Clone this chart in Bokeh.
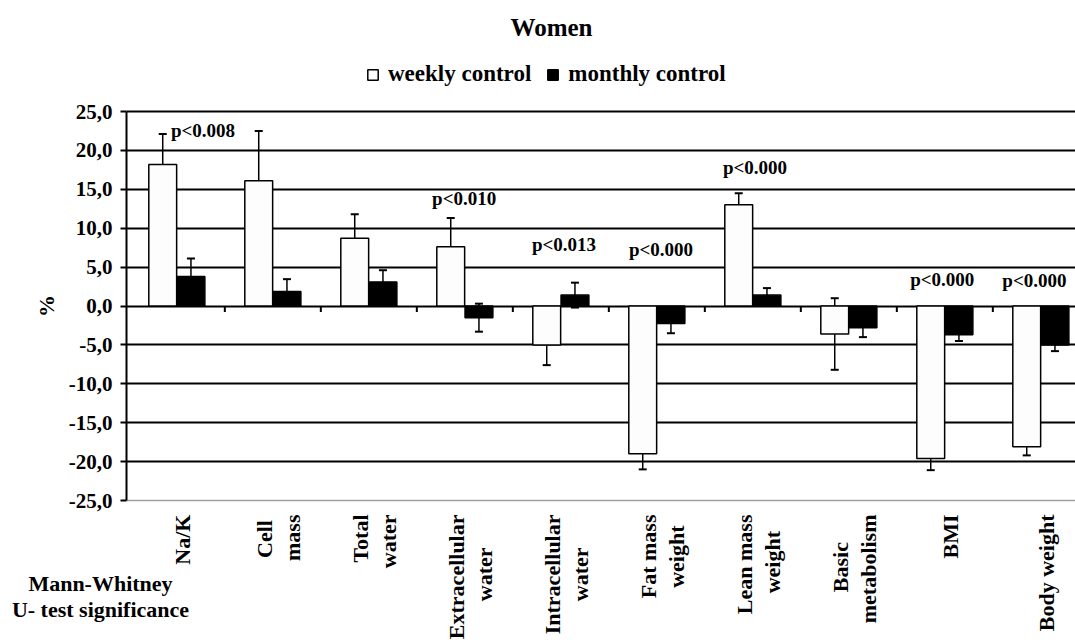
import math
from bokeh.plotting import figure
from bokeh.models import (ColumnDataSource, Range1d, FixedTicker, Whisker, TeeHead,
                          Legend, LegendItem, Label, LinearAxis, Grid)
from bokeh.core.properties import value
from bokeh.embed import file_html
from bokeh.resources import INLINE

# ---------------- data ----------------
categories = ["Na/K", "Cell\nmass", "Total\nwater", "Extracellular\nwater",
              "Intracellular\nwater", "Fat mass\nweight", "Lean mass\nweight",
              "Basic\nmetabolism", "BMI", "Body weight"]
weekly = [18.2, 16.1, 8.7, 7.6, -5.0, -19.0, 13.0, -3.6, -19.6, -18.1]
weekly_err = [3.9, 6.4, 3.1, 3.7, 2.6, 2.0, 1.5, 4.6, 1.5, 1.1]
monthly = [3.8, 1.85, 3.1, -1.5, 1.4, -2.25, 1.4, -2.8, -3.7, -5.0]
monthly_err = [2.3, 1.6, 1.5, 1.8, 1.6, 1.25, 0.9, 1.2, 0.8, 0.8]
p_labels = ["p<0.008", "", "", "p<0.010", "p<0.013", "p<0.000", "p<0.000", "",
            "p<0.000", "p<0.000"]
y_ticks = [-25, -20, -15, -10, -5, 0, 5, 10, 15, 20, 25]
y_min, y_max = -25, 25

# annotation placement (layout, not data)
p_label_y = [22.5, 0, 0, 13.8, 7.9, 7.3, 17.8, 0, 3.4, 3.3]
p_label_dx = [-0.12, 0, 0, -0.40, -0.36, -0.35, -0.37, 0, -0.42, -0.46]

FONT = "Liberation Serif"

# approximate Times-Bold advance widths (1/1000 em) used to centre the two
# lines of a rotated category label (Bokeh aligns lines to the label's end)
_W = dict(zip("abcdefghiklmnorstuwyBCEFIKLMNTW/ ",
              [500, 556, 444, 556, 444, 333, 500, 556, 278, 556, 278, 833, 556,
               500, 444, 389, 333, 556, 722, 500, 667, 722, 667, 611, 389, 778,
               667, 944, 722, 667, 1000, 278, 250]))


def centre_lines(label):
    lines = label.split("\n")
    widths = [sum(_W.get(ch, 500) for ch in ln) for ln in lines]
    mx = max(widths)
    return "\n".join(ln + "\u00a0" * int(round((mx - w) / 2 / 250))
                     for ln, w in zip(lines, widths))


# ---------------- layout (pixels) ----------------
W, H = 1075, 644
AX_X = 126            # pixel column of the value axis
TOP_PX, BOT_PX = 111, 500   # pixel rows of y_max / y_min
PITCH = 96.0          # pixels per category
LABEL_PX0 = 182       # pixel column of first category label

x_lo = (0 - LABEL_PX0) / PITCH
x_hi = (W - LABEL_PX0) / PITCH
x_axis = (AX_X - LABEL_PX0) / PITCH
ppu = (BOT_PX - TOP_PX) / (y_max - y_min)
y_lo = y_min - (H - BOT_PX) / ppu
y_hi = y_max + TOP_PX / ppu

n = len(categories)
idx = list(range(n))
w_off, b_off, bw = -0.206, 0.088, 0.29

src_w = ColumnDataSource(dict(
    x=[i + w_off for i in idx], top=weekly,
    upper=[v + e for v, e in zip(weekly, weekly_err)],
    lower=[v - e for v, e in zip(weekly, weekly_err)]))
src_b = ColumnDataSource(dict(
    x=[i + b_off for i in idx], top=monthly,
    upper=[v + e for v, e in zip(monthly, monthly_err)],
    lower=[v - e for v, e in zip(monthly, monthly_err)]))

p = figure(width=W, height=H, output_backend="svg", toolbar_location=None,
           x_range=Range1d(x_lo, x_hi), y_range=Range1d(y_lo, y_hi),
           x_axis_location=None, y_axis_location=None,
           min_border_left=0, min_border_right=0, min_border_top=0,
           min_border_bottom=0)
p.outline_line_color = None
p.background_fill_color = "white"
p.border_fill_color = "white"
p.xgrid.visible = False
p.ygrid.visible = False

# horizontal grid lines (black), spanning the plot area only
grid_ticks = [t for t in y_ticks if t > y_min]
g = Grid(dimension=1, ticker=FixedTicker(ticks=grid_ticks),
         grid_line_color="black", grid_line_width=2)
if "cross_bounds" in Grid.properties():
    g.cross_bounds = (x_axis, x_hi)
    p.add_layout(g)
else:
    p.segment(x0=[x_axis] * len(grid_ticks), x1=[x_hi] * len(grid_ticks),
              y0=grid_ticks, y1=grid_ticks, line_color="black", line_width=2)

# value axis
ya = LinearAxis(fixed_location=x_axis, bounds=(y_min, y_max),
                ticker=FixedTicker(ticks=y_ticks))
ya.major_label_overrides = {t: f"{t:.1f}".replace(".", ",") for t in y_ticks}
ya.axis_label = "%"
ya.axis_label_text_font = FONT
ya.axis_label_text_font_style = "bold"
ya.axis_label_text_font_size = "22px"
ya.axis_label_text_color = "black"
ya.axis_label_standoff = 7
ya.major_label_text_font = FONT
ya.major_label_text_font_style = "bold"
ya.major_label_text_font_size = "21px"
ya.major_label_text_color = "black"
ya.major_label_standoff = 8
ya.axis_line_color = "black"
ya.axis_line_width = 2
ya.major_tick_line_color = "black"
ya.major_tick_line_width = 2
ya.major_tick_out = 6
ya.major_tick_in = 0
ya.minor_tick_line_color = None
p.add_layout(ya, "left")

# category axis along the bottom of the plot area
xa = LinearAxis(fixed_location=y_min, bounds=(x_axis, x_hi),
                ticker=FixedTicker(ticks=idx))
xa.major_label_overrides = {i: centre_lines(c) for i, c in zip(idx, categories)}
xa.major_label_orientation = math.pi / 2
xa.major_label_text_font = FONT
xa.major_label_text_font_style = "bold"
xa.major_label_text_font_size = "22px"
xa.major_label_text_color = "black"
xa.major_label_text_line_height = 1.15
xa.major_label_standoff = 8
xa.major_tick_line_color = None
xa.minor_tick_line_color = None
xa.axis_line_color = "#a0a0a0"
xa.axis_line_width = 1.5
p.add_layout(xa, "below")

# category boundary ticks on the zero line
bounds = [i + 0.5 + (w_off + b_off) / 2 for i in idx[:-1]]
p.segment(x0=bounds, y0=[0] * len(bounds), x1=bounds, y1=[-6 / ppu] * len(bounds),
          line_color="black", line_width=2)

# bars
rw = p.vbar(x="x", top="top", bottom=0, width=bw, source=src_w,
            fill_color="#fdfdfd", line_color="black", line_width=1.5)
rb = p.vbar(x="x", top="top", bottom=0, width=bw, source=src_b,
            fill_color="black", line_color="black", line_width=1.5)

for s in (src_w, src_b):
    wk = Whisker(source=s, base="x", upper="upper", lower="lower",
                 line_color="black", line_width=1.5,
                 upper_head=TeeHead(size=8, line_width=2, line_color="black"),
                 lower_head=TeeHead(size=8, line_width=2, line_color="black"))
    p.add_layout(wk)

# significance labels
lab_x = [i + d for i, d, t in zip(idx, p_label_dx, p_labels) if t]
lab_y = [y for y, t in zip(p_label_y, p_labels) if t]
lab_t = [t for t in p_labels if t]
p.text(x=lab_x, y=lab_y, text=lab_t, text_font=value(FONT), text_font_style="bold",
       text_font_size="19px", text_baseline="middle", text_align="left",
       text_color="black")

# title
p.add_layout(Label(x=551, y=H - 27, x_units="screen", y_units="screen",
                   text="Women", text_font=FONT, text_font_style="bold",
                   text_font_size="25px", text_align="center",
                   text_baseline="middle", text_color="black"))

# legend
legend = Legend(items=[LegendItem(label="weekly control", renderers=[rw]),
                       LegendItem(label="monthly control", renderers=[rb])],
                orientation="horizontal", location=(366, H - 87),
                glyph_width=13, glyph_height=13, label_standoff=9, spacing=15,
                padding=0, margin=0, border_line_color=None,
                background_fill_alpha=0, label_height=26,
                label_text_font=FONT, label_text_font_style="bold",
                label_text_font_size="23px", label_text_color="black")
p.add_layout(legend)

# test-name note at bottom-left
for txt, py in (("Mann-Whitney", 583), ("U- test significance", 609)):
    p.add_layout(Label(x=100, y=H - py, x_units="screen", y_units="screen", text=txt,
                       text_font=FONT, text_font_style="bold", text_font_size="22px",
                       text_align="center", text_baseline="middle",
                       text_color="black"))

open("out.html", "w").write(file_html(p, INLINE))
